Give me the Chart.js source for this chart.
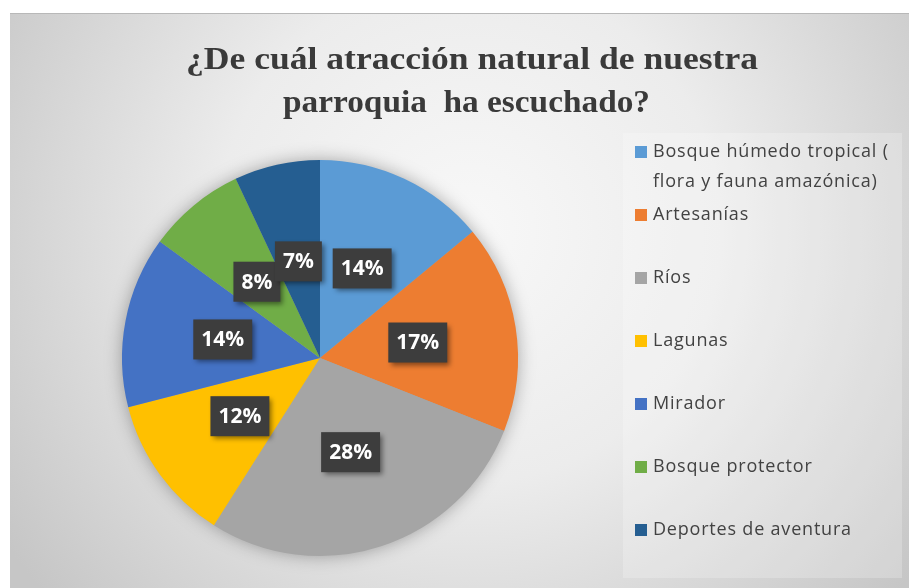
<!DOCTYPE html>
<html>
<head>
<meta charset="utf-8">
<script src="https://cdn.jsdelivr.net/npm/chart.js@4.4.1/dist/chart.umd.min.js"></script>
<style>
  html, body { margin: 0; padding: 0; background: #ffffff; }
  canvas { display: block; }
</style>
</head>
<body>
<canvas id="pie-chart" width="909" height="588"></canvas>
<script>
// Chart data
const titleLines = ["¿De cuál atracción natural de nuestra", "parroquia  ha escuchado?"];
const categories = [
    "Bosque húmedo tropical ( flora y fauna amazónica)",
    "Artesanías",
    "Ríos",
    "Lagunas",
    "Mirador",
    "Bosque protector",
    "Deportes de aventura"
];
const percentages = [14, 17, 28, 12, 14, 8, 7];
const sliceColors = ["#5B9BD5", "#ED7D31", "#A5A5A5", "#FFC000", "#4472C4", "#70AD47", "#255E91"];

// Background panel + pie shadow
const backgroundPlugin = {
    id: "panelBackground",
    beforeDraw(chart) {
        const ctx = chart.ctx;
        ctx.save();
        ctx.fillStyle = "#ffffff";
        ctx.fillRect(0, 0, chart.width, chart.height);
        const grad = ctx.createRadialGradient(470, 230, 0, 470, 230, 560);
        grad.addColorStop(0, "#f8f8f8");
        grad.addColorStop(0.45, "#ececec");
        grad.addColorStop(1, "#c6c6c6");
        ctx.fillStyle = grad;
        ctx.fillRect(10, 13, chart.width - 10, chart.height - 13);
        ctx.fillStyle = "#b8b8b8";
        ctx.fillRect(10, 13, chart.width - 10, 1);
        ctx.restore();
    },
    beforeDatasetsDraw(chart) {
        const arc = chart.getDatasetMeta(0).data[0];
        if (!arc) return;
        const ctx = chart.ctx;
        ctx.save();
        ctx.shadowColor = "rgba(0,0,0,0.35)";
        ctx.shadowBlur = 18;
        ctx.fillStyle = "#a5a5a5";
        ctx.beginPath();
        ctx.arc(arc.x, arc.y, arc.outerRadius - 1, 0, Math.PI * 2);
        ctx.fill();
        ctx.restore();
    }
};

// Title, percentage boxes and legend
const decorPlugin = {
    id: "decor",
    afterDraw(chart) {
        const ctx = chart.ctx;

        // title (condensed serif look: stretch each line to its width in the original)
        ctx.save();
        ctx.fillStyle = "#3a3a3a";
        ctx.font = "bold 31px 'Liberation Serif'";
        ctx.textAlign = "left";
        ctx.textBaseline = "alphabetic";
        [[titleLines[0], 186, 69, 572], [titleLines[1], 283, 112, 367]].forEach(([t, x, y, w]) => {
            const sx = w / ctx.measureText(t).width;
            ctx.save();
            ctx.translate(x, y);
            ctx.scale(sx, 1);
            ctx.fillText(t, 0, 0);
            ctx.restore();
        });
        ctx.restore();

        // percentage labels
        const meta = chart.getDatasetMeta(0);
        ctx.save();
        ctx.font = "bold 21px 'Open Sans'";
        ctx.textAlign = "center";
        ctx.textBaseline = "middle";
        meta.data.forEach((arc, i) => {
            const mid = (arc.startAngle + arc.endAngle) / 2;
            const r = arc.outerRadius * 0.5;
            const x = arc.x + Math.cos(mid) * r;
            const y = arc.y + Math.sin(mid) * r;
            const txt = percentages[i] + "%";
            const bw = ctx.measureText(txt).width + 16;
            const bh = 40;
            ctx.save();
            ctx.shadowColor = "rgba(0,0,0,0.45)";
            ctx.shadowBlur = 5;
            ctx.shadowOffsetX = 3;
            ctx.shadowOffsetY = 3;
            ctx.fillStyle = "#3d3d3d";
            ctx.fillRect(x - bw / 2, y - bh / 2, bw, bh);
            ctx.restore();
            ctx.fillStyle = "#ffffff";
            ctx.fillText(txt, x, y + 1);
        });
        ctx.restore();

        // legend
        ctx.save();
        ctx.fillStyle = "rgba(255,255,255,0.22)";
        ctx.fillRect(623, 133, 279, 445);
        ctx.font = "18px 'Open Sans'";
        ctx.letterSpacing = "0.8px";
        ctx.textAlign = "left";
        ctx.textBaseline = "middle";
        categories.forEach((label, i) => {
            const y = 152 + i * 63;
            ctx.fillStyle = sliceColors[i];
            ctx.fillRect(635, y - 6, 12, 12);
            ctx.fillStyle = "#424242";
            // word wrap
            const words = label.split(" ");
            const lines = [];
            let line = "";
            words.forEach((w) => {
                const test = line ? line + " " + w : w;
                if (ctx.measureText(test).width > 248 && line) {
                    lines.push(line);
                    line = w;
                } else {
                    line = test;
                }
            });
            lines.push(line);
            lines.forEach((l, k) => ctx.fillText(l, 653, y + k * 30));
        });
        ctx.restore();
    }
};

const ctx = document.getElementById("pie-chart").getContext("2d");
const pieChart = new Chart(ctx, {
    type: "pie",
    data: {
        labels: categories,
        datasets: [
            {
                data: percentages,
                backgroundColor: sliceColors,
                borderWidth: 0,
            },
        ],
    },
    options: {
        responsive: false,
        animation: false,
        layout: { padding: { left: 122, right: 391, top: 159, bottom: 31 } },
        plugins: {
            legend: { display: false },
            tooltip: { enabled: false },
            title: { display: false },
        },
    },
    plugins: [backgroundPlugin, decorPlugin],
});
</script>
</body>
</html>
